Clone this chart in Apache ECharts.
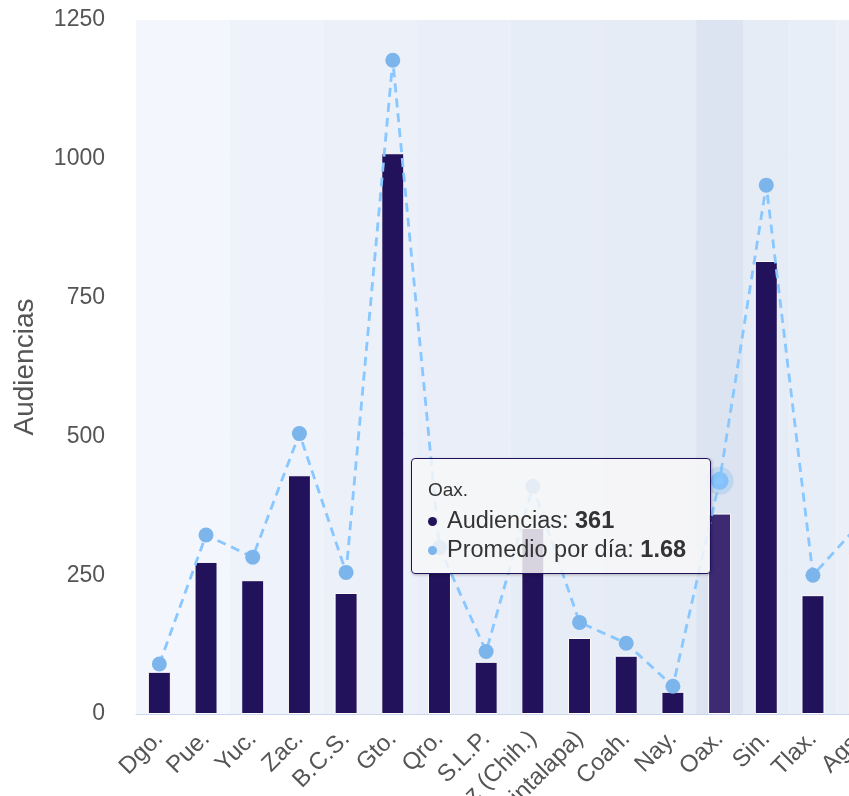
<!DOCTYPE html>
<html>
<head>
<meta charset="utf-8">
<script src="https://cdn.jsdelivr.net/npm/echarts@6/dist/echarts.min.js"></script>
<style>
  html, body { margin: 0; padding: 0; background: #fff; }
  #main { width: 849px; height: 796px; }
</style>
</head>
<body>
<div id="main"></div>
<script>
// datos por estado
var estados = ['Dgo.', 'Pue.', 'Yuc.', 'Zac.', 'B.C.S.', 'Gto.', 'Qro.', 'S.L.P.', 'Cd. Juárez (Chih.)',
    'Chis. (Cintalapa)', 'Coah.', 'Nay.', 'Oax.', 'Sin.', 'Tlax.', 'Ags.'];
var audiencias = [76, 274, 241, 430, 218, 1010, 255, 94, 335, 137, 105, 40, 361, 816, 214, 290];
var promedioDia = [0.36, 1.29, 1.13, 2.02, 1.02, 4.71, 1.2, 0.45, 1.64, 0.66, 0.51, 0.2, 1.68, 3.81, 1.0, 1.37];
var ticksIzq = [0, 250, 500, 750, 1000, 1250];

// color de fondo de cada columna
var fondos = ['#f3f6fc', '#f3f6fc', '#eef2fa', '#eef2fa', '#ebf0f9', '#ebf0f9', '#e9eef8', '#e9eef8',
    '#e7edf6', '#e7edf6', '#e6ecf5', '#e6ecf5', '#e6ecf5', '#e6ecf5', '#e8eef7', '#ebf0f8'];

var colorBarra = '#22125b';
var colorLinea = '#7cb5ec';
var idxSel = 12; // Oax.

var chart = echarts.init(document.getElementById('main'));

var option = {
    animation: false,
    textStyle: { fontFamily: 'Liberation Sans, Arial, sans-serif' },
    // el area de trazado sigue mas alla del borde derecho
    grid: { left: 136, top: 20, bottom: 82, right: -34, containLabel: false, outerBoundsMode: 'none' },
    tooltip: {
        trigger: 'axis',
        alwaysShowContent: true,
        transitionDuration: 0,
        axisPointer: {
            type: 'shadow',
            z: 1,
            shadowStyle: { color: 'rgba(204,214,235,0.35)' }
        },
        backgroundColor: 'rgba(247,247,247,0.85)',
        borderColor: colorBarra,
        borderWidth: 1.5,
        padding: [20, 24, 9, 16],
        extraCssText: 'border-radius:4px;box-shadow:1px 1px 3px rgba(0,0,0,0.25);',
        position: function () { return [411, 458]; },
        formatter: function (params) {
            var html = '<div style="font-size:19px;line-height:22px;color:#333;margin-bottom:5px">' + params[0].name + '</div>';
            params.forEach(function (p) {
                html += '<div style="font-size:23.5px;line-height:29px;color:#333">' +
                    '<span style="display:inline-block;width:9px;height:9px;border-radius:50%;background:' + p.color +
                    ';margin-right:10px;vertical-align:middle"></span>' +
                    p.seriesName + ': <b>' + p.value + '</b></div>';
            });
            return html;
        }
    },
    xAxis: {
        type: 'category',
        data: estados,
        boundaryGap: true,
        axisLine: { lineStyle: { color: '#ccd6eb', width: 1 } },
        axisTick: { show: false },
        axisLabel: { rotate: 45, interval: 0, margin: 21, fontSize: 24, color: '#555' },
        splitArea: { show: true, interval: 0, areaStyle: { color: fondos } }
    },
    yAxis: [
        {
            type: 'value',
            min: ticksIzq[0],
            max: ticksIzq[ticksIzq.length - 1],
            interval: 250,
            name: 'Audiencias',
            nameLocation: 'middle',
            nameGap: 97,
            nameTextStyle: { fontSize: 28, color: '#555' },
            axisLabel: { fontSize: 23, color: '#555', margin: 31, formatter: function (v) { return String(v); } },
            splitLine: { lineStyle: { color: '#e6e6e6', width: 1 } }
        },
        { type: 'value', min: 0, max: 5, show: false, splitLine: { show: false } }
    ],
    series: [
        {
            name: 'Audiencias',
            type: 'bar',
            data: audiencias,
            barWidth: 23,
            z: 3,
            itemStyle: { color: colorBarra, borderColor: '#fff', borderWidth: 1 },
            emphasis: { itemStyle: { color: '#3d2a73' } }
        },
        {
            name: 'Promedio por día',
            type: 'line',
            yAxisIndex: 1,
            z: 4,
            data: promedioDia,
            symbol: 'circle',
            symbolSize: 15,
            lineStyle: { color: colorLinea, width: 2.8, type: [9, 6] },
            itemStyle: { color: colorLinea },
            emphasis: {
                scale: 1.2,
                lineStyle: { width: 2.8 },
                itemStyle: { borderColor: 'rgba(124,181,236,0.3)', borderWidth: 10 }
            }
        }
    ]
};

chart.setOption(option);
chart.dispatchAction({ type: 'showTip', seriesIndex: 0, dataIndex: idxSel });
chart.dispatchAction({ type: 'highlight', seriesIndex: [0, 1], dataIndex: idxSel });
</script>
</body>
</html>
